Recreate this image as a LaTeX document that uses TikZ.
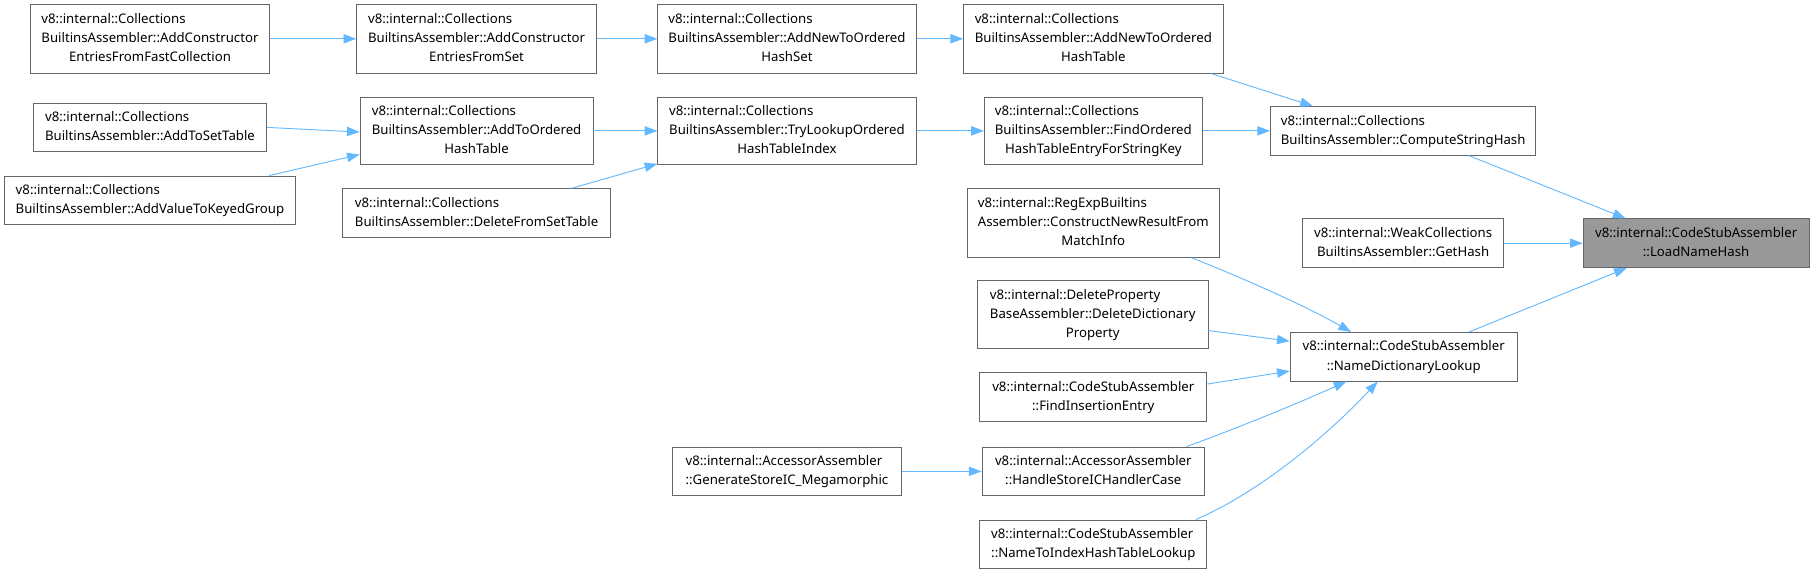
\documentclass[tikz,border=0pt]{standalone}
\usepackage{fontspec}
\setmainfont{Noto Sans}
\usetikzlibrary{arrows.meta}
\definecolor{edgec}{HTML}{63B8FF}
\definecolor{bord}{HTML}{666666}
\definecolor{hl}{HTML}{999999}
\newcommand\tthree[3]{\begin{tabular}{@{}l@{}}#1\\#2\\\multicolumn{1}{@{}c@{}}{#3}\end{tabular}}
\newcommand\ttwo[2]{\begin{tabular}{@{}l@{}}#1\\\multicolumn{1}{@{}c@{}}{#2}\end{tabular}}
\tikzset{
  box/.style={draw=bord, fill=white, line width=0.8pt, inner sep=0pt, font=\fontsize{11.4}{16.5}\selectfont},
  hlbox/.style={box, fill=hl},
  arr/.style={draw=edgec, line width=0.8pt, -{Triangle[length=11pt,width=8pt]}}
}
\newcommand\bx[7][]{\node[box,#1,minimum width={(#4-#2)*1pt},minimum height={(#5-#3)*1pt}] (#6) at ({(#2+#4)/2},{(#3+#5)/2}) {#7};}
\begin{document}
\begin{tikzpicture}[x=1pt,y=-1pt]
\useasboundingbox (0,0) rectangle (1568,496);
% rank 5
\bx{26}{4}{233}{63}{fast}{\tthree{v8::internal::Collections}{BuiltinsAssembler::AddConstructor}{EntriesFromFastCollection}}
\bx{29}{89}{230}{131}{tosettable}{\ttwo{v8::internal::Collections}{BuiltinsAssembler::AddToSetTable}}
\bx{4}{152}{255}{194}{keyed}{\ttwo{v8::internal::Collections}{BuiltinsAssembler::AddValueToKeyedGroup}}
% rank 4
\bx{308}{4}{515}{63}{set}{\tthree{v8::internal::Collections}{BuiltinsAssembler::AddConstructor}{EntriesFromSet}}
\bx{311}{84}{512}{142}{addordered}{\tthree{v8::internal::Collections}{BuiltinsAssembler::AddToOrdered}{HashTable}}
\bx{296}{163}{527}{205}{delfromset}{\ttwo{v8::internal::Collections}{BuiltinsAssembler::DeleteFromSetTable}}
% rank 3
\bx{568}{4}{791}{63}{hashset}{\tthree{v8::internal::Collections}{BuiltinsAssembler::AddNewToOrdered}{HashSet}}
\bx{568}{84}{791}{142}{trylookup}{\tthree{v8::internal::Collections}{BuiltinsAssembler::TryLookupOrdered}{HashTableIndex}}
\bx{581}{386}{778}{428}{generate}{\ttwo{v8::internal::AccessorAssembler}{::GenerateStoreIC\_Megamorphic}}
% rank 2
\bx{832}{4}{1056}{63}{hashtable}{\tthree{v8::internal::Collections}{BuiltinsAssembler::AddNewToOrdered}{HashTable}}
\bx{850}{84}{1038}{142}{findordered}{\tthree{v8::internal::Collections}{BuiltinsAssembler::FindOrdered}{HashTableEntryForStringKey}}
\bx{835}{163}{1053}{222}{regexp}{\tthree{v8::internal::RegExpBuiltins}{Assembler::ConstructNewResultFrom}{MatchInfo}}
\bx{844}{242}{1043}{301}{deleteprop}{\tthree{v8::internal::DeleteProperty}{BaseAssembler::DeleteDictionary}{Property}}
\bx{846}{322}{1042}{364}{findinsert}{\ttwo{v8::internal::CodeStubAssembler}{::FindInsertionEntry}}
\bx{848}{386}{1040}{428}{handlestore}{\ttwo{v8::internal::AccessorAssembler}{::HandleStoreICHandlerCase}}
\bx{846}{449}{1042}{491}{nametoindex}{\ttwo{v8::internal::CodeStubAssembler}{::NameToIndexHashTableLookup}}
% rank 1
\bx{1097}{92}{1326}{134}{compute}{\ttwo{v8::internal::Collections}{BuiltinsAssembler::ComputeStringHash}}
\bx{1125}{189}{1298}{231}{gethash}{\ttwo{v8::internal::WeakCollections}{BuiltinsAssembler::GetHash}}
\bx{1114}{287}{1310}{329}{namedict}{\ttwo{v8::internal::CodeStubAssembler}{::NameDictionaryLookup}}
% rank 0
\bx[hlbox]{1367}{189}{1562}{231}{loadname}{\ttwo{v8::internal::CodeStubAssembler}{::LoadNameHash}}
% edges
\draw[arr] (fast) -- (set);
\draw[arr] (set) -- (hashset);
\draw[arr] (hashset) -- (hashtable);
\draw[arr] (tosettable.east) -- ([yshift=-1pt]addordered.west);
\draw[arr] ([xshift=-23pt]keyed.north east) -- ([yshift=9pt]addordered.south west);
\draw[arr] (addordered) -- (trylookup);
\draw[arr] ([xshift=-34pt]delfromset.north east) -- ([yshift=1pt]trylookup.south west);
\draw[arr] (trylookup) -- (findordered);
\draw[arr] (findordered) -- (compute);
\draw[arr] ([xshift=-11pt]hashtable.south east) -- ([xshift=37pt]compute.north west);
\draw[arr] ([xshift=-58pt]compute.south east) -- ([xshift=37pt]loadname.north west);
\draw[arr] (gethash) -- (loadname);
\draw[arr] ([xshift=-42pt]namedict.north east) -- ([xshift=38pt]loadname.south west);
\draw[arr] ([xshift=194pt]regexp.south west) .. controls (1075,241) and (1125,263) .. ([xshift=53pt]namedict.north west);
\draw[arr] ([yshift=16pt]deleteprop.south east) -- ([yshift=-8pt]namedict.north west);
\draw[arr] ([yshift=-10pt]findinsert.north east) -- ([yshift=9pt]namedict.south west);
\draw[arr] ([xshift=-16pt]handlestore.north east) .. controls (1062,372) and (1112,352) .. ([xshift=49pt]namedict.south west);
\draw[arr] ([xshift=-10pt]nametoindex.north east) .. controls (1085,426) and (1142,380) .. ([xshift=76pt]namedict.south west);
\draw[arr] (generate) -- (handlestore);
\end{tikzpicture}
\end{document}
